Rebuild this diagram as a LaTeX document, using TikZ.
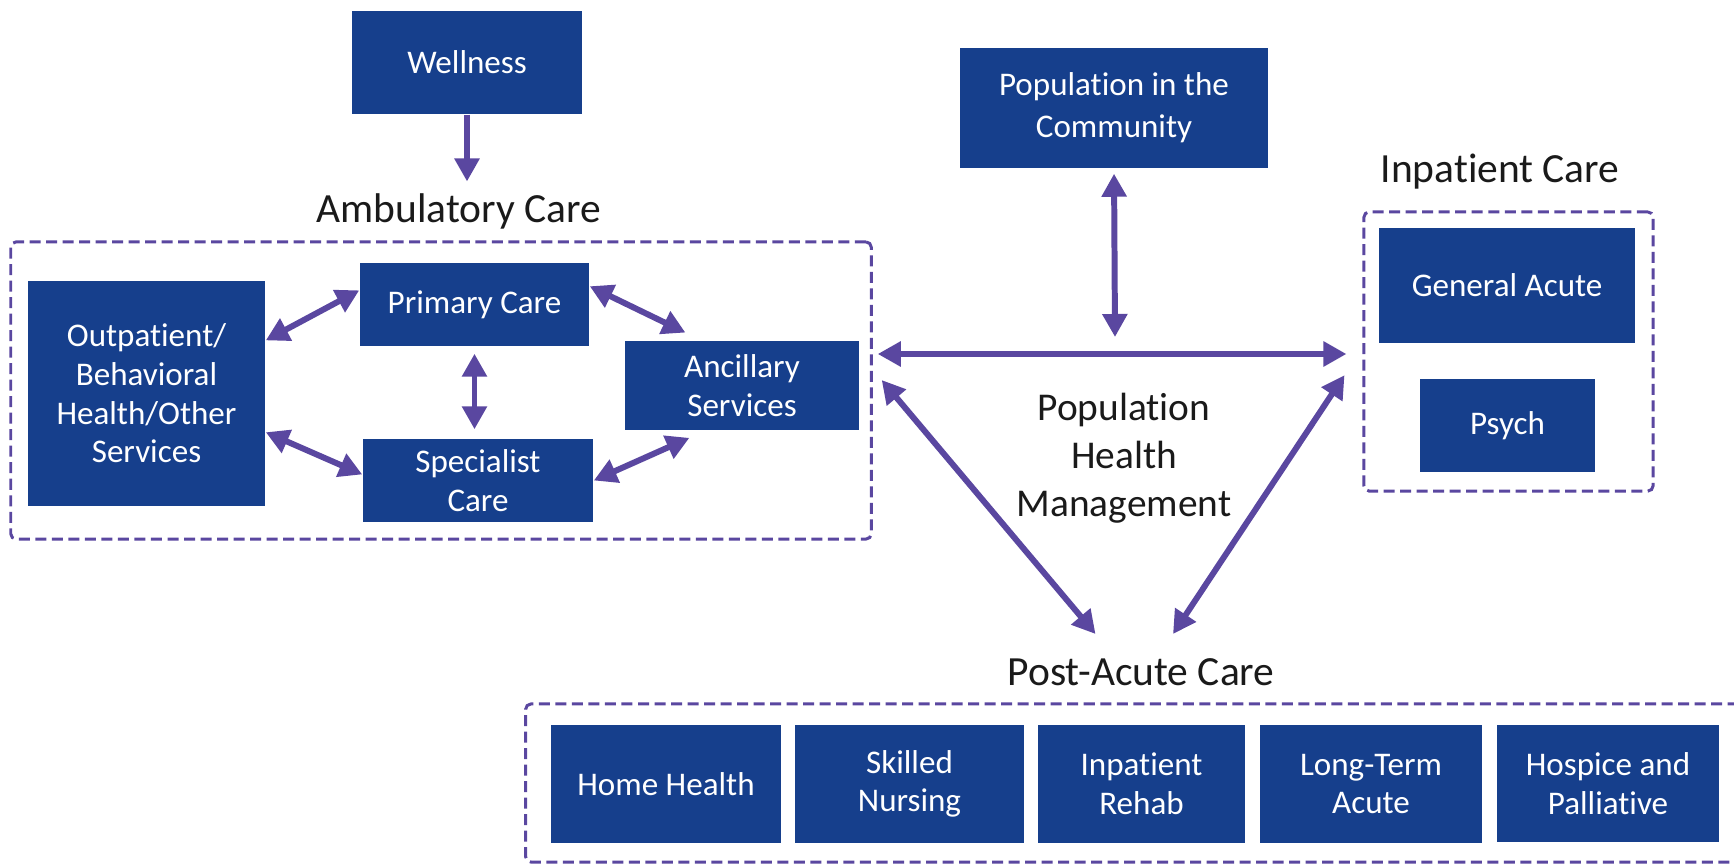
\documentclass[tikz,border=0pt]{standalone}
\usepackage{fontspec}
\setmainfont{Carlito}[Ligatures={NoCommon,NoContextual,NoDiscretionary,NoRequired},Contextuals=NoAlternate]
\usetikzlibrary{arrows.meta}
\definecolor{boxblue}{HTML}{163F8C}
\definecolor{linkpurple}{HTML}{5A47A0}
\definecolor{labelgray}{HTML}{1A1A1A}
\begin{document}
\begin{tikzpicture}[x=0.01cm,y=-0.01cm,
  box/.style={fill=boxblue, text=white, inner sep=0pt, align=center,
    font=\fontsize{9.4}{11}\selectfont},
  group/.style={draw=linkpurple, line width=0.85pt,
    dash pattern=on 0.11cm off 0.055cm, rounded corners=1.5pt, inner sep=0pt},
  lbl/.style={inner sep=0pt, text=labelgray, font=\fontsize{11.8}{13.7}\selectfont},
  tip/.tip={Triangle[length=0.23cm,width=0.24cm]},
  link/.style={draw=linkpurple, line width=1.7pt, tip-tip},
  onelink/.style={draw=linkpurple, line width=1.7pt, -tip},
]
\useasboundingbox (0,0) rectangle (1734,864);

% groups
\node[group, minimum width=8.60cm, minimum height=2.97cm] (ambg) at (441,390.5) {};
\node[group, minimum width=2.89cm, minimum height=2.79cm] (inpg) at (1508.5,351.5) {};
\node[group, minimum width=12.34cm, minimum height=1.58cm] (postg) at (1143,783) {};

% labels
\node[lbl, anchor=base] (amblbl) at (459,223) {Ambulatory Care};
\node[lbl, anchor=base] (inplbl) at (1500,183) {Inpatient Care};
\node[lbl, anchor=base] (postlbl) at (1141,685) {Post-Acute Care};
\node[lbl, align=center, font=\fontsize{11.2}{13.7}\selectfont] (phm) at (1124,458) {Population\\Health\\Management};

% boxes
\node[box, minimum width=2.30cm, minimum height=1.03cm] (well) at (467,62.5) {Wellness};
\node[box, minimum width=3.08cm, minimum height=1.20cm, font=\fontsize{9.4}{12}\selectfont] (pop) at (1114,108) {Population in the\\Community};
\node[box, minimum width=2.37cm, minimum height=2.25cm] (outp) at (146.5,393.5) {Outpatient/\\Behavioral\\Health/Other\\Services};
\node[box, minimum width=2.29cm, minimum height=0.83cm] (prim) at (474.5,304.5) {Primary Care};
\node[box, minimum width=2.34cm, minimum height=0.89cm] (anc) at (742,385.5) {Ancillary\\Services};
\node[box, minimum width=2.30cm, minimum height=0.83cm] (spec) at (478,480.5) {Specialist\\Care};
\node[box, minimum width=2.56cm, minimum height=1.15cm] (gen) at (1507,285.5) {General Acute};
\node[box, minimum width=1.75cm, minimum height=0.93cm] (psych) at (1507.5,425.5) {Psych};
\node[box, minimum width=2.30cm, minimum height=1.18cm] (home) at (666,784) {Home Health};
\node[box, minimum width=2.29cm, minimum height=1.18cm] (skil) at (909.5,784) {Skilled\\Nursing};
\node[box, minimum width=2.07cm, minimum height=1.18cm] (rehab) at (1141.5,784) {Inpatient\\Rehab};
\node[box, minimum width=2.22cm, minimum height=1.18cm] (lta) at (1371,784) {Long-Term\\Acute};
\node[box, minimum width=2.22cm, minimum height=1.17cm] (hosp) at (1608,783.5) {Hospice and\\Palliative};

% free ends and levels
\coordinate (hubtop) at (1115,337);
\coordinate (hline) at (1115,354);
\coordinate (dLy) at (871,369.4);
\coordinate (dRy) at (1364,348.1);
\coordinate (postL) at (1095.5,634);
\coordinate (postR) at (1173,634);

% connectors
\draw[onelink, shorten >=0.12cm] (well.south) -- (well.south |- amblbl.north);
\draw[link, shorten <=0.05cm] (pop.south) -- (hubtop);
\draw[link, shorten <=0.05cm, shorten >=0.16cm] (ambg.east |- hline) -- (inpg.west |- hline);
\draw[link, shorten <=0.139cm] (ambg.east |- dLy) -- (postL);
\draw[link, shorten <=0.324cm] (inpg.west |- dRy) -- (postR);

\draw[link] (outp.24.3) -- (prim.173.4);
\draw[link, shorten >=0.176cm] (prim.9.4) -- (anc.132.2);
\draw[link, shorten <=0.07cm, shorten >=0.09cm] (prim.south) -- (prim.south |- spec.north);
\draw[link] (outp.-18.4) -- (spec.177.3);
\draw[link, shorten >=0.175cm] (spec.0.7) -- (anc.231);
\end{tikzpicture}
\end{document}
